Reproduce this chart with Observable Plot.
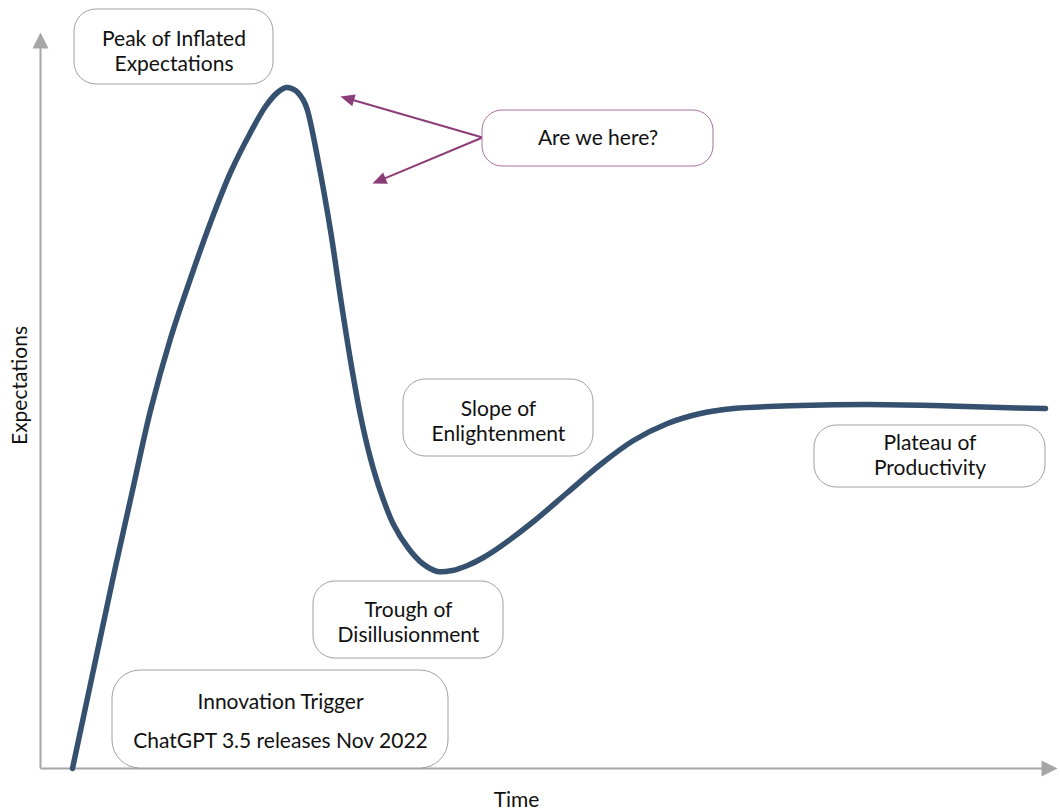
<!DOCTYPE html>
<html><head><meta charset="utf-8">
<script src="https://cdn.jsdelivr.net/npm/d3@7"></script>
<script src="https://cdn.jsdelivr.net/npm/@observablehq/plot@0.6"></script>
<style>body{margin:0;background:#fff;} #chart svg{display:block;}</style>
</head><body><div id="chart"></div>
<script>
// Hype curve (time units, expectation units)
const time = [32,52,72,92,110,130,150,170,190,210,225,237,246,255,263,267,277,290,300,310,320,330,340,353,368,382,397,412,427,443,460,493,527,560,593,627,660,693,760,827,893,960,1005];
const expectations = [0,94,188,278,358,430,490,546,596,636,662,676,681,678,668,658,611,538,471,408,353,310,277,244,220,205,197,198,203,211,222,247,276,304,328,345,355,360,363,364,363,361,360];

// Stage boxes
const stageText = ["Peak of Inflated\nExpectations","Slope of\nEnlightenment","Plateau of\nProductivity","Trough of\nDisillusionment"];
const stageX1 = [34,363,774,273];
const stageX2 = [233,553,1005,463];
const stageY1 = [684,312,281,110];
const stageY2 = [759,389,343,187];
const stageTextY = [718,348,314,147];

// Innovation trigger box
const triggerLines = ["Innovation Trigger","ChatGPT 3.5 releases Nov 2022"];
const triggerBox = {x1:72, x2:408, y1:0, y2:98};
const triggerLineY = [66,27];

// "Are we here?" callout
const calloutText = "Are we here?";
const calloutBox = {x1:442, x2:673, y1:602, y2:658};
const calloutFrom = [442,631];
const calloutTipsX = [300,332];
const calloutTipsY = [672,585];

// Axes
const axisTips = [{x1:0,y1:0,x2:0,y2:736},{x1:0,y1:0,x2:1017,y2:0}];
const axisLabels = ["Expectations","Time"];

const shortened = (x1,y1,x2,y2,len) => {
  const dx = x2-x1, dy = y2-y1, L = Math.hypot(dx,dy);
  return {x1, y1, x2: x2 - dx/L*len, y2: y2 - dy/L*len, tx: x2, ty: y2, rot: Math.atan2(dx, dy)*180/Math.PI};
};
const headSymbol = (len, wid) => ({draw(ctx){ ctx.moveTo(0,0); ctx.lineTo(-wid/2,len); ctx.lineTo(wid/2,len); ctx.closePath(); }});

const curve = time.map((t,i)=>({t, e: expectations[i]}));
const stages = stageText.map((s,i)=>({s, x1:stageX1[i], x2:stageX2[i], y1:stageY1[i], y2:stageY2[i], tx:(stageX1[i]+stageX2[i])/2, ty:stageTextY[i]}));
const trig = triggerLines.map((s,i)=>({s, y:triggerLineY[i]}));
const axes = axisTips.map(a=>shortened(a.x1,a.y1,a.x2,a.y2,15));
const callouts = calloutTipsX.map((x,i)=>shortened(calloutFrom[0],calloutFrom[1],x,calloutTipsY[i],12));

const font = "Lato, 'Source Sans Pro', sans-serif";
const grey = "#a6a6a6", purple = "#8b3d78";
const fs = 21;

const chart = Plot.plot({
  width: 1060, height: 811,
  marginLeft: 40, marginRight: 0, marginTop: 0, marginBottom: 43,
  x: {domain: [0,1020], axis: null},
  y: {domain: [0,768], axis: null},
  style: {fontFamily: font, fontSize: fs + "px", color: "#111"},
  marks: [
    Plot.link(axes, {x1:"x1", y1:"y1", x2:"x2", y2:"y2", stroke: grey, strokeWidth: 2}),
    Plot.dot(axes, {x:"tx", y:"ty", rotate:"rot", r:5, symbol: headSymbol(16,16), fill: grey, stroke: "none"}),
    Plot.line(curve, {x:"t", y:"e", curve:"catmull-rom", stroke:"#36516f", strokeWidth:5.5, strokeLinejoin:"round"}),
    Plot.rect(stages, {x1:"x1", x2:"x2", y1:"y1", y2:"y2", rx:22, fill:"white", stroke:"#a0a0a0", strokeWidth:1}),
    Plot.text(stages, {x:"tx", y:"ty", text:"s", lineHeight:1.2, fill:"#111", fontSize:fs}),
    Plot.rect([triggerBox], {x1:"x1", x2:"x2", y1:"y1", y2:"y2", rx:28, fill:"white", stroke:"#a0a0a0", strokeWidth:1}),
    Plot.text(trig, {x:(triggerBox.x1+triggerBox.x2)/2, y:"y", text:"s", fill:"#111", fontSize:fs}),
    Plot.link(callouts, {x1:"x1", y1:"y1", x2:"x2", y2:"y2", stroke: purple, strokeWidth: 2}),
    Plot.dot(callouts, {x:"tx", y:"ty", rotate:"rot", r:5, symbol: headSymbol(14,12), fill: purple, stroke: "none"}),
    Plot.rect([calloutBox], {x1:"x1", x2:"x2", y1:"y1", y2:"y2", rx:20, fill:"white", stroke:"#a8719b", strokeWidth:1}),
    Plot.text([calloutText], {x:(calloutBox.x1+calloutBox.x2)/2, y:(calloutBox.y1+calloutBox.y2)/2, text:d=>d, fill:"#111", fontSize:fs}),
    Plot.text([axisLabels[0]], {x:-20, y:383, text:d=>d, rotate:-90, fill:"#111", fontSize:fs}),
    Plot.text([axisLabels[1]], {x:476, y:-32, text:d=>d, fill:"#111", fontSize:fs})
  ]
});
document.getElementById("chart").appendChild(chart);
</script>
</body></html>
